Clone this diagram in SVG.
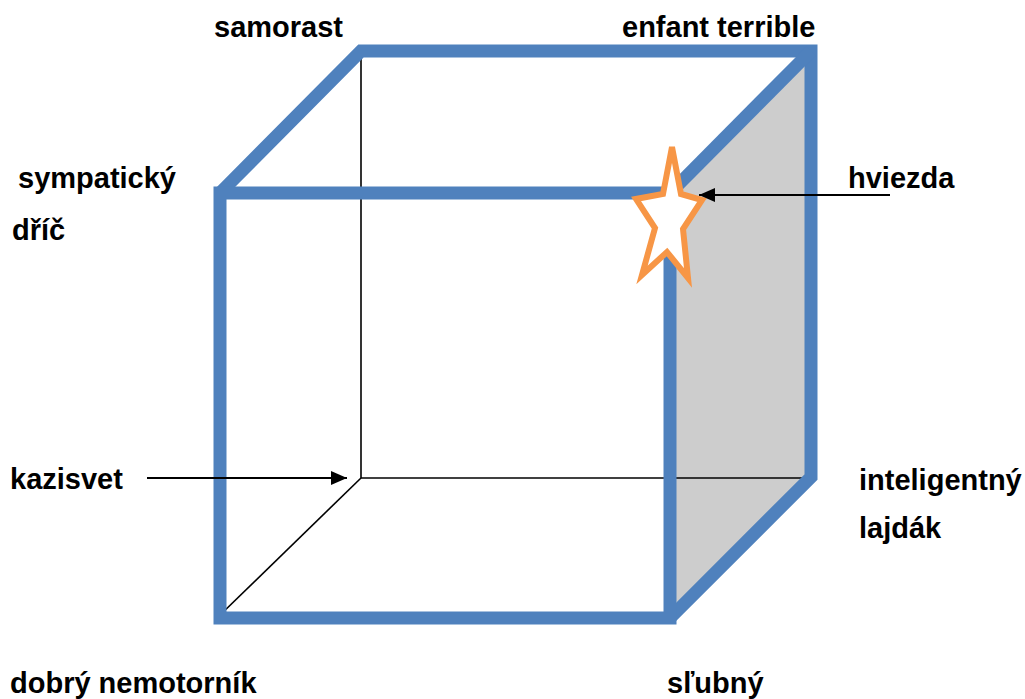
<svg xmlns="http://www.w3.org/2000/svg" width="1025" height="699" viewBox="0 0 1025 699">
<style>
.lbl{font-family:"Liberation Sans",Arial,sans-serif;font-weight:bold;font-size:29px;fill:#000}
.edge{fill:none;stroke:#4F81BD;stroke-width:13;stroke-linejoin:miter}
.thin{fill:none;stroke:#000;stroke-width:1.6}
.arr{fill:none;stroke:#000;stroke-width:2.2}
</style>
<defs>
<marker id="ah2" viewBox="0 0 16 14" refX="16" refY="7" markerWidth="16" markerHeight="14" orient="auto" markerUnits="userSpaceOnUse">
<path d="M0,0 L16,7 L0,14 Z" fill="#000"/>
</marker>
</defs>
<rect width="1025" height="699" fill="#fff"/>
<g id="cube">
<polygon points="670,193 811,51 811,477 670,618" fill="#CDCDCD"/>
<g id="hidden-edges">
<line class="thin" x1="361" y1="52" x2="361" y2="478"/>
<line class="thin" x1="361" y1="478" x2="812" y2="478"/>
<line class="thin" x1="361" y1="478" x2="217" y2="618"/>
</g>
<path class="edge" d="M220,193 L361,51 L811,51 L811,477 L670,618"/>
<rect class="edge" x="220" y="193" width="450" height="425"/>
<line class="edge" x1="670" y1="193" x2="811" y2="51"/>
</g>
<g id="star">
<polygon points="672,147 681,194 702,200 683,229 688,278 667,252 642,275 655,228 636,199 663,194" fill="#fff" stroke="#F79646" stroke-width="6" stroke-linejoin="miter"/>
</g>
<g id="connectors">
<line class="arr" x1="147" y1="478" x2="347" y2="478" marker-end="url(#ah2)"/>
<line class="arr" x1="890" y1="195" x2="699" y2="195" marker-end="url(#ah2)"/>
</g>
<g id="labels">
<text id="samorast" class="lbl" x="214" y="37">samorast</text>
<text id="enfant" class="lbl" x="622" y="37">enfant terrible</text>
<text id="sympaticky" class="lbl" x="18" y="188">sympatický</text>
<text id="dric" class="lbl" x="12" y="240">dříč</text>
<text id="hviezda" class="lbl" x="848" y="188">hviezda</text>
<text id="kazisvet" class="lbl" x="10" y="489">kazisvet</text>
<text id="inteligentny" class="lbl" x="859" y="490">inteligentný</text>
<text id="lajdak" class="lbl" x="859" y="538">lajdák</text>
<text id="dobry" class="lbl" x="10" y="693">dobrý nemotorník</text>
<text id="slubny" class="lbl" x="667" y="693">sľubný</text>
</g>
</svg>
